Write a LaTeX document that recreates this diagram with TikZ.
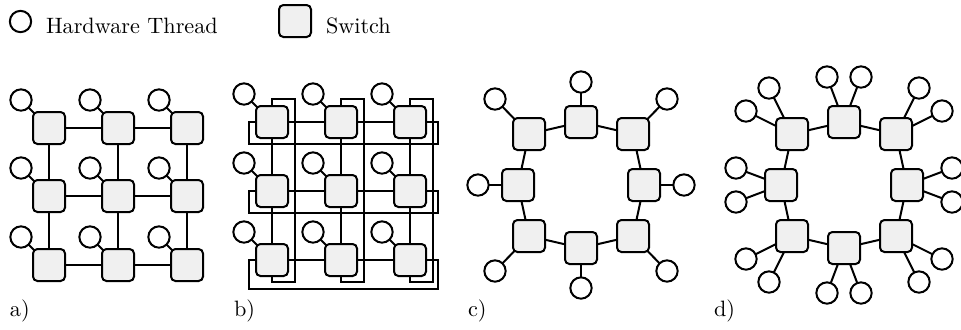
\documentclass[tikz,border=0pt]{standalone}
\begin{document}
\begin{tikzpicture}[x=0.45pt,y=-0.45pt,line width=0.9pt,
  thread/.style={circle,draw,fill=white,minimum size=9.6pt,inner sep=0pt},
  switch/.style={rectangle,draw,fill=black!6,rounded corners=2pt,minimum size=14.4pt,inner sep=0pt},
  link/.style={draw},
  caption/.style={anchor=base west,inner sep=0pt,font=\normalsize}]
\useasboundingbox (0,0) rectangle (961,329);
\clip (0,0) rectangle (961,329);

% legend
\node[thread] (lgthread) at (20.5,21.5) {};
\node[caption] (lgthreadtxt) at (45,33) {Hardware Thread};
\node[switch] (lgswitch) at (295,21) {};
\node[caption] (lgswitchtxt) at (325,33) {Switch};

% ---------- a) 2D mesh ----------
\foreach \i/\y in {1/128,2/196,3/265}
  \foreach \j/\x in {1/49,2/118,3/187} {
    \coordinate (pa\i\j) at (\x,\y);
    \coordinate (qa\i\j) at (\x-28,\y-28);
  }
\foreach \i in {1,2,3} {
  \path[link] (pa\i1) -- (pa\i2) -- (pa\i3);
  \path[link] (pa1\i) -- (pa2\i) -- (pa3\i);
  \foreach \j in {1,2,3} \path[link] (qa\i\j) -- (pa\i\j);
}
\foreach \i in {1,2,3}
  \foreach \j in {1,2,3} {
    \node[switch] (a\i\j) at (pa\i\j) {};
    \node[thread] (ta\i\j) at (qa\i\j) {};
  }
\node[caption] (capa) at (9,316) {a)};

% ---------- b) 2D torus ----------
\foreach \i/\y in {1/122,2/191,3/260}
  \foreach \j/\x in {1/272,2/341,3/410} {
    \coordinate (pb\i\j) at (\x,\y);
    \coordinate (qb\i\j) at (\x-28,\y-28);
  }
\foreach \i in {1,2,3} {
  \path[link] (pb\i1) -- (pb\i2) -- (pb\i3);
  \path[link] (pb1\i) -- (pb2\i) -- (pb3\i);
  \foreach \j in {1,2,3} \path[link] (qb\i\j) -- (pb\i\j);
}
% wrap-around links of the rows
\foreach \i/\y/\d in {1/122/22,2/191/22,3/260/29}
  \path[link] (pb\i1) -- (249,\y) -- (249,\y+\d) -- (438,\y+\d) -- (438,\y) -- (pb\i3);
% wrap-around links of the columns
\foreach \j/\x in {1/272,2/341,3/410}
  \path[link] (pb1\j) -- (\x,99) -- (\x+23,99) -- (\x+23,282) -- (\x,282) -- (pb3\j);
\foreach \i in {1,2,3}
  \foreach \j in {1,2,3} {
    \node[switch] (b\i\j) at (pb\i\j) {};
    \node[thread] (tb\i\j) at (qb\i\j) {};
  }
\node[caption] (capb) at (233,316) {b)};

% ---------- c) ring, one thread per switch ----------
\foreach \n/\dx/\dy/\tx/\ty in {T/0/-63/0/-40, TR/52/-51/34/-35, R/63/0/40/0, BR/52/51/34/35,
                                 B/0/63/0/40, BL/-52/51/-34/35, L/-63/0/-40/0, TL/-52/-51/-34/-35} {
  \coordinate (pc\n) at (581+\dx,185+\dy);
  \coordinate (qc\n) at (581+\dx+\tx,185+\dy+\ty);
}
\foreach \n in {T,TR,R,BR,B,BL,L,TL} \path[link] (qc\n) -- (pc\n);
\path[link] (pcT) -- (pcTR) -- (pcR) -- (pcBR) -- (pcB) -- (pcBL) -- (pcL) -- (pcTL) -- (pcT);
\foreach \n in {T,TR,R,BR,B,BL,L,TL} {
  \node[switch] (c\n) at (pc\n) {};
  \node[thread] (tc\n) at (qc\n) {};
}
\node[caption] (capc) at (467,316) {c)};

% ---------- d) ring, two threads per switch ----------
\foreach \n/\dx/\dy/\ax/\ay/\bx/\by in {T/0/-63/-17/-45/17/-45, TR/52/-51/23/-46/46/-23,
    R/63/0/45/-17/45/17, BR/52/51/46/23/23/46, B/0/63/17/45/-17/45,
    BL/-52/51/-23/46/-46/23, L/-63/0/-45/17/-45/-17, TL/-52/-51/-46/-23/-23/-46} {
  \coordinate (pd\n) at (844+\dx,185+\dy);
  \coordinate (qd\n) at (844+\dx+\ax,185+\dy+\ay);
  \coordinate (rd\n) at (844+\dx+\bx,185+\dy+\by);
}
\foreach \n in {T,TR,R,BR,B,BL,L,TL} {
  \path[link] (qd\n) -- (pd\n);
  \path[link] (rd\n) -- (pd\n);
}
\path[link] (pdT) -- (pdTR) -- (pdR) -- (pdBR) -- (pdB) -- (pdBL) -- (pdL) -- (pdTL) -- (pdT);
\foreach \n in {T,TR,R,BR,B,BL,L,TL} {
  \node[switch] (d\n) at (pd\n) {};
  \node[thread] (tda\n) at (qd\n) {};
  \node[thread] (tdb\n) at (rd\n) {};
}
\node[caption] (capd) at (713,316) {d)};
\end{tikzpicture}
\end{document}
